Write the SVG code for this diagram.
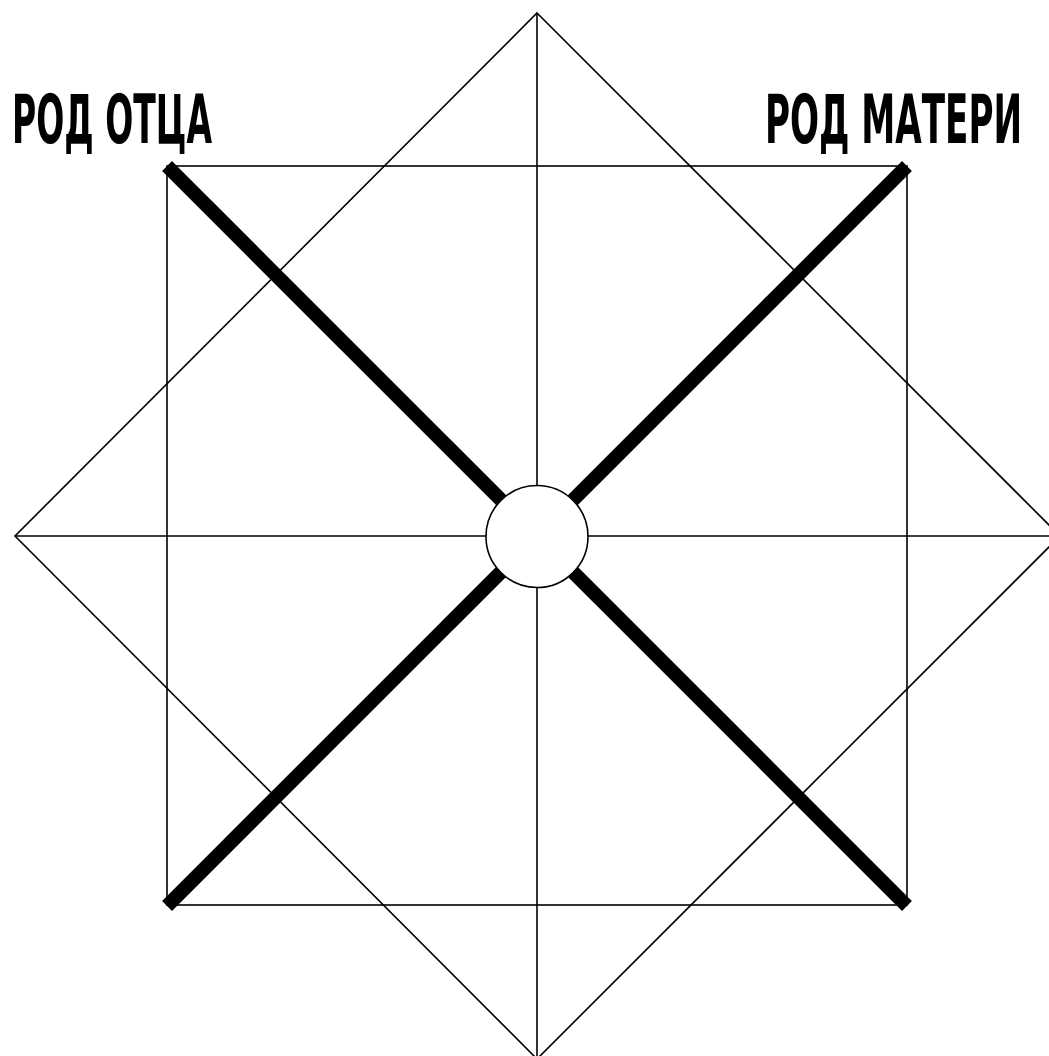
<svg xmlns="http://www.w3.org/2000/svg" width="1049" height="1056" viewBox="0 0 1049 1056">
<style>
.thin{stroke:#000;stroke-width:1.6;fill:none}
.thick{stroke:#000;stroke-width:14;stroke-linecap:square}
.lbl{font-family:"Liberation Sans Narrow","DejaVu Sans Condensed","Liberation Sans",sans-serif;font-weight:bold;font-size:68px;fill:#000}
</style>
<rect width="1049" height="1056" fill="#fff"/>
<g id="connectors">
<polygon class="thin" points="537,13 1060,536 537,1059 15,536"/>
<rect class="thin" x="167" y="166" width="740" height="739"/>
<line class="thin" x1="537" y1="13" x2="537" y2="1059"/>
<line class="thin" x1="15" y1="536" x2="1060" y2="536"/>
<line class="thick" x1="172" y1="171" x2="902" y2="901"/>
<line class="thick" x1="902" y1="171" x2="172" y2="901"/>
</g>
<g id="center">
<circle cx="537" cy="536.5" r="51" fill="#fff" stroke="#000" stroke-width="1.6"/>
</g>
<g id="label-father">
<text class="lbl" x="12" y="143" textLength="200" lengthAdjust="spacingAndGlyphs">РОД ОТЦА</text>
</g>
<g id="label-mother">
<text class="lbl" x="765" y="143" textLength="257" lengthAdjust="spacingAndGlyphs">РОД МАТЕРИ</text>
</g>
</svg>
